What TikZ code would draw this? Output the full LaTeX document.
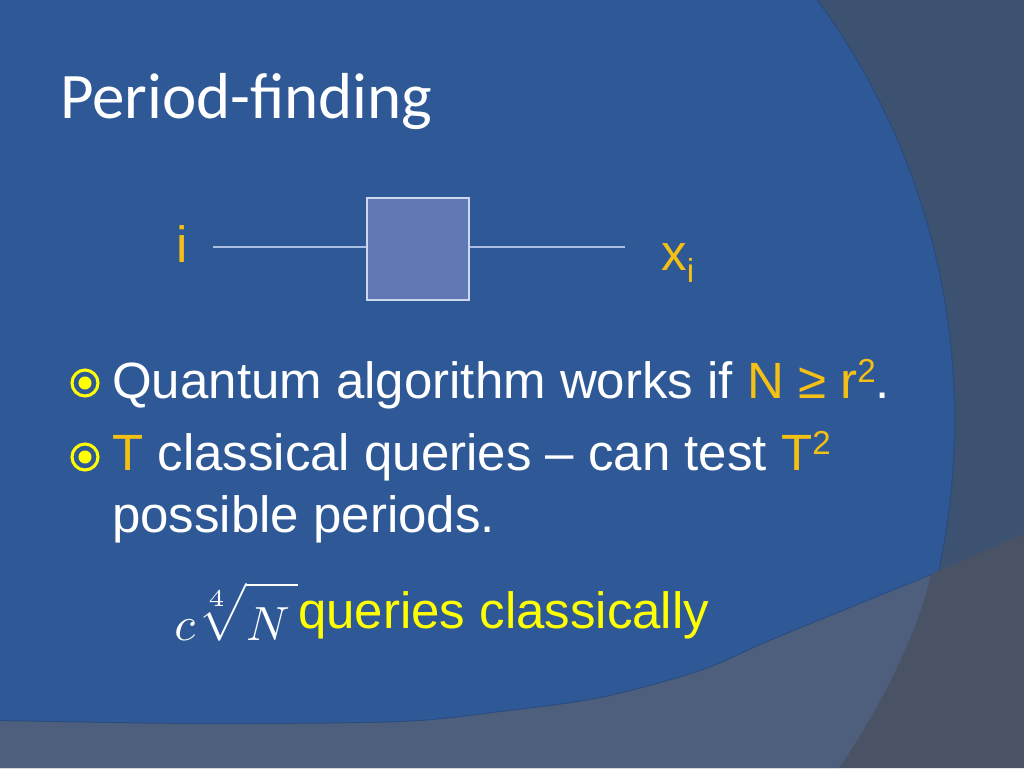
\documentclass[tikz,border=0pt]{standalone}
\usepackage{fontspec}
\setmainfont{Liberation Sans}
\newfontfamily\titlefont{Carlito}

\definecolor{slideblue}{RGB}{46,89,150}
\definecolor{panelgrey}{RGB}{61,81,112}
\definecolor{bandgrey}{RGB}{77,95,125}
\definecolor{cornergrey}{RGB}{74,83,102}
\definecolor{edgeblue}{RGB}{42,76,126}
\definecolor{gold}{RGB}{245,192,20}
\definecolor{brightyellow}{RGB}{255,255,0}
\definecolor{wireblue}{RGB}{170,190,225}
\definecolor{boxfill}{RGB}{96,121,181}
\definecolor{boxedge}{RGB}{205,215,238}

\newcommand{\upidx}[1]{\raisebox{0.3em}{\fontsize{24.9pt}{24.9pt}\selectfont #1}}
\newcommand{\dnidx}[1]{\raisebox{-0.25em}{\fontsize{24.9pt}{24.9pt}\selectfont #1}}

\begin{document}
\begin{tikzpicture}[x=0.75pt, y=-0.75pt]
	
	% ---------- Helper styles ----------
	\tikzset{
		wire/.style={wireblue, line width=1.1pt},
		oraclebox/.style={draw=boxedge, fill=boxfill, line width=1.2pt, minimum width=76.5pt, minimum height=76.5pt, inner sep=0pt},
		bullet/.style={circle, draw=brightyellow, line width=2.3pt, minimum size=19.5pt, inner sep=0pt},
		body/.style={anchor=base west, inner sep=0pt, text=white, font=\fontsize{38.25pt}{46.5pt}\selectfont}
	}
	
	\useasboundingbox (0,0) rectangle (1024,768);
	
	% ---------- Background ----------
	\fill[panelgrey] (0,0) rectangle (1024,768);
	\fill[cornergrey] (0,768) -- plot[smooth] coordinates {(0,720) (200,723) (400,721) (500,711) (600,697) (700,670) (774,638) (931,574) (1024,534)} -- (1024,768) -- cycle;
	\fill[bandgrey] (0,768) -- plot[smooth] coordinates {(0,720) (200,723) (400,721) (500,711) (600,697) (700,670) (774,638) (931,574)} .. controls (918,630) and (885,700) .. (839,768) -- cycle;
	\draw[edgeblue, line width=1.5pt] plot[smooth] coordinates {(0,720) (200,723) (400,721) (500,711) (600,697) (700,670) (774,638) (931,574)};
	
	% big blue disc, cut by the bottom band
	\begin{scope}
		\clip (0,0) -- plot[smooth] coordinates {(0,720) (200,723) (400,721) (500,711) (600,697) (700,670) (774,638) (931,574) (1024,534)} -- (1024,0) -- cycle;
		\draw[edgeblue, line width=2pt] (244,420) circle (532.5pt);
		\fill[slideblue] (244,420) circle (532.5pt);
	\end{scope}
	
	% ---------- Title ----------
	\node[anchor=base west, inner sep=0pt, text=white, font=\titlefont\fontsize{48.75pt}{50pt}\selectfont] (title) at (60,118) {Period-finding};
	
	% ---------- Oracle box ----------
	\node[oraclebox] (oracle) at (418,249) {};
	\coordinate (in) at (213,247);
	\coordinate (out) at (625,247);
	\draw[wire] (in) -- (in -| oracle.west);
	\draw[wire] (out -| oracle.east) -- (out);
	\node[body, text=gold] (ilbl) at (176,262) {i};
	\node[body, text=gold] (xlbl) at (661,270) {x\dnidx{i}};
	
	% ---------- Bullets ----------
	\foreach \n/\y in {1/383, 2/457} {
		\node[bullet] (bul\n) at (85,\y) {};
		\fill[brightyellow] (bul\n.center) circle (4.9pt);
	}
	\node[body] (pt1) at (112,398) {Quantum algorithm works if \textcolor{gold}{N ≥ r\upidx{2}}.};
	\node[body] (pt2) at (112,470) {\textcolor{gold}{T} classical queries – can test \textcolor{gold}{T\upidx{2}}};
	\node[body] (pt3) at (112,532) {possible periods.};
	
	% ---------- Classical cost ----------
	\node[anchor=base west, inner sep=0pt, text=white] (cost) at (174,640) {\scalebox{3.6}{$c\sqrt[4]{\rule{0pt}{1.05em}N\,}$}};
	\node[body, text=brightyellow] (clq) at (298,628) {queries classically};
	
\end{tikzpicture}
\end{document}
